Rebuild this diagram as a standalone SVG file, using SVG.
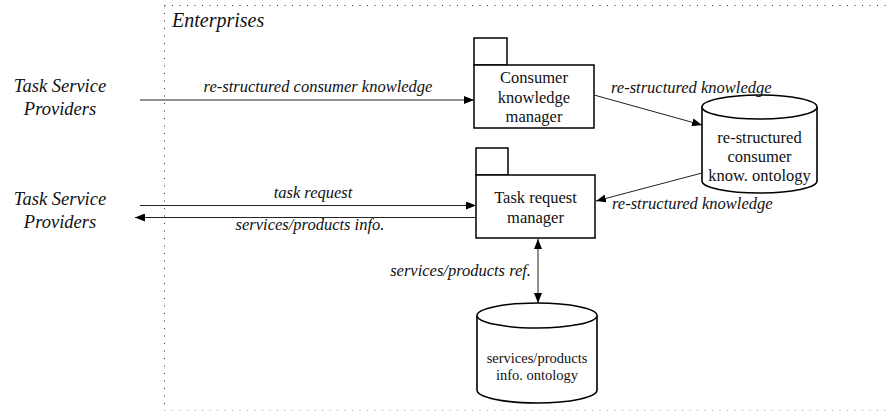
<svg xmlns="http://www.w3.org/2000/svg" width="892" height="414" viewBox="0 0 892 414">
  <style>
    .box { fill: #fff; stroke: #000; stroke-width: 1.5; }
    .db { fill: #fff; stroke: #000; stroke-width: 1.6; }
    .edge { fill: none; stroke: #222; stroke-width: 1; }
    .border { fill: none; stroke: #333; stroke-width: 1; stroke-dasharray: 1 6.5; }
    .border-light { fill: none; stroke: #aaa; stroke-width: 1; stroke-dasharray: 1 6.5; }
  </style>
  <defs>
    <marker id="arrow" viewBox="0 0 10 8" refX="10" refY="4" markerWidth="10" markerHeight="8" markerUnits="userSpaceOnUse" orient="auto-start-reverse">
      <path d="M0,0 L10,4 L0,8 Z" fill="#000"/>
    </marker>
  </defs>

  <!-- enterprise boundary -->
  <g id="enterprise-boundary">
    <line class="border" x1="164.5" y1="5.5" x2="892" y2="5.5"/>
    <line class="border" x1="164.5" y1="5.5" x2="164.5" y2="410"/>
    <line class="border-light" x1="164.5" y1="410.5" x2="892" y2="410.5"/>
    <text x="172" y="27" font-family="Liberation Serif, serif" font-style="italic" font-size="20" fill="#111">Enterprises</text>
  </g>

  <!-- external actors -->
  <g id="task-service-providers-1" font-family="Liberation Serif, serif" font-style="italic" font-size="18.5" fill="#111" text-anchor="middle">
    <text x="60" y="92">Task Service</text>
    <text x="60" y="115">Providers</text>
  </g>
  <g id="task-service-providers-2" font-family="Liberation Serif, serif" font-style="italic" font-size="18.5" fill="#111" text-anchor="middle">
    <text x="60" y="205">Task Service</text>
    <text x="60" y="228">Providers</text>
  </g>

  <!-- managers -->
  <g id="consumer-knowledge-manager" font-family="Liberation Serif, serif" font-size="16.5" fill="#111" text-anchor="middle">
    <rect class="box" x="474" y="38" width="33" height="27"/>
    <rect class="box" x="474" y="65" width="120" height="63"/>
    <text x="534" y="83">Consumer</text>
    <text x="534" y="102.5">knowledge</text>
    <text x="534" y="122">manager</text>
  </g>
  <g id="task-request-manager" font-family="Liberation Serif, serif" font-size="16.5" fill="#111" text-anchor="middle">
    <rect class="box" x="476" y="148" width="32" height="27"/>
    <rect class="box" x="476" y="175" width="119" height="63"/>
    <text x="535.5" y="203">Task request</text>
    <text x="535.5" y="223">manager</text>
  </g>

  <!-- ontologies -->
  <g id="consumer-know-ontology" font-family="Liberation Serif, serif" font-size="16.5" fill="#111" text-anchor="middle">
    <path class="db" d="M702,107 L702,181 A57.5,12 0 0 0 817,181 L817,107 A57.5,12 0 0 0 702,107 Z"/>
    <path class="db" d="M702,107 A57.5,12 0 0 0 817,107"/>
    <text x="759.5" y="143">re-structured</text>
    <text x="759.5" y="162">consumer</text>
    <text x="759.5" y="181">know. ontology</text>
  </g>
  <g id="services-products-ontology" font-family="Liberation Serif, serif" font-size="14.5" fill="#111" text-anchor="middle">
    <path class="db" d="M477,315.5 L477,390 A60,13 0 0 0 597,390 L597,315.5 A60,12.5 0 0 0 477,315.5 Z"/>
    <path class="db" d="M477,315.5 A60,12.5 0 0 0 597,315.5"/>
    <text x="537" y="363">services/products</text>
    <text x="537" y="379.5">info. ontology</text>
  </g>

  <!-- connectors and their labels -->
  <g id="connectors" font-family="Liberation Serif, serif" font-style="italic" font-size="16.5" fill="#111">
    <line class="edge" x1="140" y1="100" x2="474" y2="100" marker-end="url(#arrow)"/>
    <text x="318" y="92" text-anchor="middle">re-structured consumer knowledge</text>

    <line class="edge" x1="594" y1="95" x2="702" y2="125" marker-end="url(#arrow)"/>
    <text x="611" y="93">re-structured knowledge</text>

    <line class="edge" x1="702" y1="173" x2="596" y2="201" marker-end="url(#arrow)"/>
    <text x="612" y="209">re-structured knowledge</text>

    <line class="edge" x1="140" y1="205.5" x2="476" y2="205.5" marker-end="url(#arrow)"/>
    <text x="313" y="198" text-anchor="middle">task request</text>

    <line class="edge" x1="476" y1="217.5" x2="135" y2="217.5" marker-end="url(#arrow)"/>
    <text x="310" y="230" text-anchor="middle">services/products info.</text>

    <line class="edge" x1="538" y1="239" x2="538" y2="303" marker-start="url(#arrow)" marker-end="url(#arrow)"/>
    <text x="531" y="276" text-anchor="end">services/products ref.</text>
  </g>
</svg>
